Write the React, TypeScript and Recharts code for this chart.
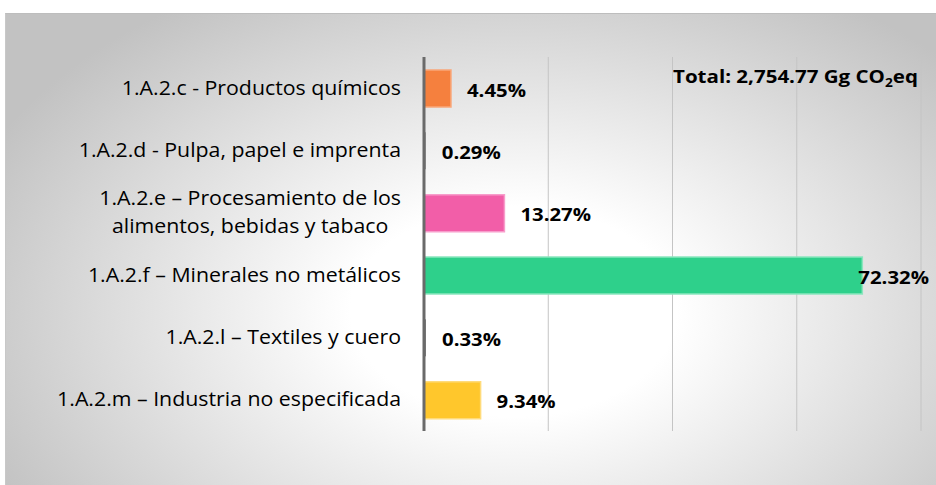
import React from "react";
import { BarChart, Bar, XAxis, YAxis, CartesianGrid, LabelList, Cell } from "recharts";

const categories = [
  "1.A.2.c - Productos químicos",
  "1.A.2.d - Pulpa, papel e imprenta",
  "1.A.2.e – Procesamiento de los\nalimentos, bebidas y tabaco",
  "1.A.2.f – Minerales no metálicos",
  "1.A.2.l – Textiles y cuero",
  "1.A.2.m – Industria no especificada",
];
const shares = [4.45, 0.29, 13.27, 72.32, 0.33, 9.34];
const barColors = ["#F5803E", "#7F7F7F", "#F25EA8", "#2ED08B", "#7F7F7F", "#FFC72C"];
const barEdges = ["#F9A77A", "none", "#F79DCB", "#8BE6BE", "none", "#FFDB7A"];
const xTicks = [20.5, 41, 61.5, 82];
const totalText = "Total: 2,754.77 Gg CO";
const totalSub = "2";
const totalTail = "eq";

const data = categories.map((name, i) => ({ name, v: shares[i] }));

const FONT = "'Open Sans', 'Noto Sans', sans-serif";
const TICK_SIZE = 20;
const TICK_STRETCH = 1.065;
const LABEL_SIZE = 18;
const LABEL_STRETCH = 1.13;

let ctx: CanvasRenderingContext2D | null = null;
const measure = (t: string, font: string) => {
  if (!ctx) ctx = document.createElement("canvas").getContext("2d");
  if (!ctx) return t.length * 9;
  ctx.font = font;
  return ctx.measureText(t).width;
};

const YTick = (props: any) => {
  const { y, payload } = props;
  const lines = String(payload.value).split("\n");
  const right = 401;
  const font = `${TICK_SIZE}px ${FONT}`;
  const widths = lines.map((l) => measure(l, font) * TICK_STRETCH);
  if (lines.length === 1) {
    return (
      <text
        x={right}
        y={y}
        dy={6.5}
        textAnchor="end"
        fontFamily={FONT}
        fontSize={TICK_SIZE}
        fill="#000"
        textLength={widths[0]}
        lengthAdjust="spacingAndGlyphs"
      >
        {lines[0]}
      </text>
    );
  }
  const maxW = Math.max(...widths);
  const cx = right - maxW / 2;
  const n = lines.length;
  return (
    <g>
      {lines.map((l, i) => (
        <text
          key={i}
          x={cx}
          y={y + (i - (n - 1) / 2) * 28}
          dy={6.5}
          textAnchor="middle"
          fontFamily={FONT}
          fontSize={TICK_SIZE}
          fill="#000"
          textLength={widths[i]}
          lengthAdjust="spacingAndGlyphs"
        >
          {l}
        </text>
      ))}
    </g>
  );
};

const BarLabel = (props: any) => {
  const { x, y, width, height, value } = props;
  const big = value > 50;
  const lx = x + width + (big ? -4 : 16);
  const txt = `${Number(value).toFixed(2)}%`;
  const w = measure(txt, `700 ${LABEL_SIZE}px ${FONT}`) * LABEL_STRETCH;
  return (
    <text
      x={lx}
      y={y + height / 2}
      dy={8}
      fontFamily={FONT}
      fontWeight={700}
      fontSize={LABEL_SIZE}
      fill="#000"
      textLength={w}
      lengthAdjust="spacingAndGlyphs"
    >
      {txt}
    </text>
  );
};

export default function App() {
  return (
    <div style={{ position: "fixed", left: 0, top: 0, width: 936, height: 485, background: "#fff", overflow: "hidden" }}>
      <div
        style={{
          position: "absolute",
          left: 5,
          top: 13,
          width: 940,
          height: 480,
          borderTop: "1px solid #bdbdbd",
          borderLeft: "1px solid #c8c8c8",
          background:
            "radial-gradient(ellipse 62% 78% at 54% 62%, #ffffff 0%, #ffffff 28%, #e4e4e4 60%, #c2c2c2 100%)",
        }}
      />
      <div style={{ position: "absolute", left: 0, top: 0 }}>
        <BarChart
          width={936}
          height={485}
          data={data}
          layout="vertical"
          margin={{ top: 57, right: 15, bottom: 54, left: 0 }}
        >
          <CartesianGrid horizontal={false} stroke="#c4c4c4" strokeWidth={1} />
          <XAxis type="number" hide domain={[0, 82]} ticks={xTicks} />
          <YAxis
            type="category"
            dataKey="name"
            width={424}
            interval={0}
            tickLine={false}
            axisLine={{ stroke: "#6a6a6a", strokeWidth: 3 }}
            tick={<YTick />}
          />
          <Bar dataKey="v" barSize={37} isAnimationActive={false} strokeWidth={1.5}>
            {data.map((d, i) => (
              <Cell key={i} fill={barColors[i]} stroke={barEdges[i]} />
            ))}
            <LabelList dataKey="v" content={<BarLabel />} />
          </Bar>
        </BarChart>
      </div>
      <div
        style={{
          position: "absolute",
          left: 673,
          top: 65,
          fontFamily: FONT,
          fontWeight: 700,
          fontSize: 18,
          color: "#000",
          whiteSpace: "nowrap",
          lineHeight: "22px",
          transform: "scaleX(1.14)",
          transformOrigin: "0 0",
        }}
      >
        {totalText}
        <sub style={{ fontSize: 12, verticalAlign: "-4px", lineHeight: 0 }}>{totalSub}</sub>
        {totalTail}
      </div>
    </div>
  );
}
